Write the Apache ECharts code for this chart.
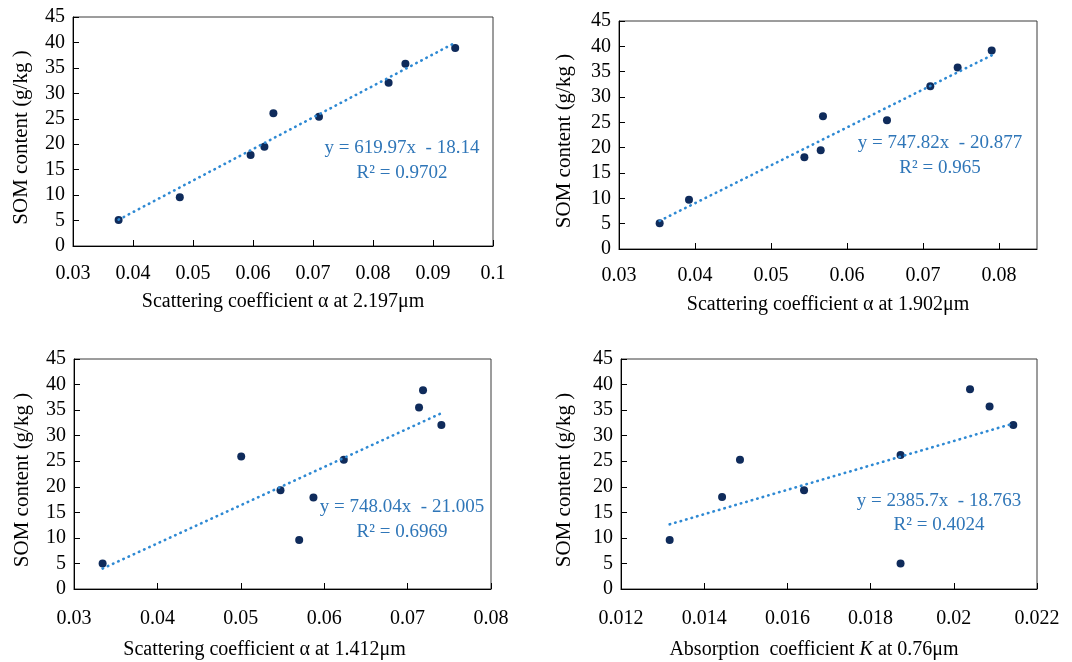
<!DOCTYPE html>
<html>
<head>
<meta charset="utf-8">
<script src="https://cdn.jsdelivr.net/npm/echarts@6/dist/echarts.min.js"></script>
<style>html,body{margin:0;padding:0;background:#fff}#c{width:1072px;height:662px}</style>
</head>
<body>
<div id="c"></div>
<script>
// ---- data ----
var x1 = [0.0376, 0.0478, 0.0596, 0.0619, 0.0634, 0.0710, 0.0826, 0.0854, 0.0937];
var y1 = [5.1, 9.6, 17.9, 19.5, 26.1, 25.4, 32.1, 35.8, 38.9];
var x2 = [0.03535, 0.03921, 0.05439, 0.05654, 0.05684, 0.06526, 0.07096, 0.07456, 0.07904];
var y2 = [5.1, 9.7, 18.1, 19.5, 26.2, 25.4, 32.1, 35.8, 39.2];
var x3 = [0.03343, 0.05005, 0.05476, 0.05700, 0.05871, 0.06235, 0.07137, 0.07185, 0.07405];
var y3 = [5.0, 25.9, 19.3, 9.6, 17.9, 25.3, 35.5, 38.9, 32.1];
var x4 = [0.01317, 0.01443, 0.01486, 0.01640, 0.01872, 0.01872, 0.02039, 0.02086, 0.02143];
var y4 = [9.6, 18.0, 25.3, 19.3, 26.2, 5.0, 39.1, 35.7, 32.1];
// trendline endpoints (x, y)
var trend1 = [[0.0376, 5.17], [0.0937, 39.95]];
var trend2 = [[0.03535, 5.56], [0.07904, 38.23]];
var trend3 = [[0.03343, 4.00], [0.07405, 34.39]];
var trend4 = [[0.01317, 12.65], [0.02143, 32.37]];
var eqTexts = ['y = 619.97x  - 18.14', 'y = 747.82x  - 20.877', 'y = 748.04x  - 21.005', 'y = 2385.7x  - 18.763'];
var r2Texts = ['R\u00b2 = 0.9702', 'R\u00b2 = 0.965', 'R\u00b2 = 0.6969', 'R\u00b2 = 0.4024'];
var xNames = ['Scattering coefficient \u03b1 at 2.197\u03bcm', 'Scattering coefficient \u03b1 at 1.902\u03bcm',
              'Scattering coefficient \u03b1 at 1.412\u03bcm', 'Absorption  coefficient {i|K} at 0.76\u03bcm'];
var yName = 'SOM content (g/kg )';
var xMin = [0.03, 0.03, 0.03, 0.012];
var xMax = [0.1, 0.085, 0.08, 0.022];
var xStep = [0.01, 0.01, 0.01, 0.002];
var yMin = 0, yMax = 45, yStep = 5;

// ---- layout ----
var FONT = '"Liberation Serif","Times New Roman",serif';
var grids = [
  {left: 73, top: 17, width: 420, height: 229},
  {left: 619, top: 21, width: 418, height: 228},
  {left: 74, top: 359, width: 417, height: 230},
  {left: 621, top: 359, width: 416, height: 230}
];
var xNameGap = [46, 46, 51, 51];
var xNamePad = [[0,0,0,0],[0,0,0,0],[0,36,0,0],[0,30,0,0]];
var yNameGap = [41, 44, 41, 46];
var xLabelMargin = [18, 17, 20, 20];
var eqPos = [[402, 148, 173], [940, 143, 168], [402, 507, 532], [939, 501, 525]];
var xs = [x1, x2, x3, x4], ys = [y1, y2, y3, y4], trends = [trend1, trend2, trend3, trend4];

function pairs(a, b) { return a.map(function (v, i) { return [v, b[i]]; }); }

var option = {
  backgroundColor: '#fff',
  animation: false,
  grid: grids.map(function (g) {
    return Object.assign({show: true, borderColor: '#3a3a3a', borderWidth: 1, containLabel: false}, g);
  }),
  xAxis: grids.map(function (g, i) {
    return {
      gridIndex: i, type: 'value', min: xMin[i], max: xMax[i], interval: xStep[i],
      name: xNames[i], nameLocation: 'middle', nameGap: xNameGap[i],
      nameTextStyle: {fontFamily: FONT, fontSize: 20, color: '#000', padding: xNamePad[i],
        rich: {i: {fontFamily: FONT, fontSize: 20, fontStyle: 'italic', color: '#000'}}},
      axisLine: {show: true, onZero: false, lineStyle: {color: '#000', width: 1}},
      axisTick: {show: true, inside: true, length: 6, lineStyle: {color: '#000'}},
      axisLabel: {fontFamily: FONT, fontSize: 20, color: '#000', margin: xLabelMargin[i],
        showMaxLabel: i !== 1, hideOverlap: false},
      splitLine: {show: false}
    };
  }),
  yAxis: grids.map(function (g, i) {
    return {
      gridIndex: i, type: 'value', min: yMin, max: yMax, interval: yStep,
      name: yName, nameLocation: 'middle', nameGap: yNameGap[i],
      nameTextStyle: {fontFamily: FONT, fontSize: 21, color: '#000', padding: [0, 12, 0, 0]},
      axisLine: {show: true, lineStyle: {color: '#000', width: 1}},
      axisTick: {show: true, inside: true, length: 6, lineStyle: {color: '#000'}},
      axisLabel: {fontFamily: FONT, fontSize: 20, color: '#000', margin: 8},
      splitLine: {show: false}
    };
  }),
  series: [],
  graphic: []
};

for (var i = 0; i < 4; i++) {
  option.series.push({
    type: 'scatter', xAxisIndex: i, yAxisIndex: i, data: pairs(xs[i], ys[i]),
    symbolSize: 8, itemStyle: {color: '#0f2b5b', opacity: 1}, z: 2
  });
  option.series.push({
    type: 'line', xAxisIndex: i, yAxisIndex: i, data: trends[i], symbol: 'none',
    lineStyle: {color: '#2e89d3', width: 2.6, type: [0.5, 5.2], cap: 'round'}, z: 3
  });
  option.graphic.push({
    type: 'text', x: eqPos[i][0], y: eqPos[i][1],
    style: {text: eqTexts[i], fontFamily: FONT, fontSize: 19, fill: '#2f76b8', align: 'center', verticalAlign: 'middle'}
  });
  option.graphic.push({
    type: 'text', x: eqPos[i][0], y: eqPos[i][2],
    style: {text: r2Texts[i], fontFamily: FONT, fontSize: 19, fill: '#2f76b8', align: 'center', verticalAlign: 'middle'}
  });
}

var chart = echarts.init(document.getElementById('c'), null, {renderer: 'canvas'});
chart.setOption(option);
</script>
</body>
</html>
